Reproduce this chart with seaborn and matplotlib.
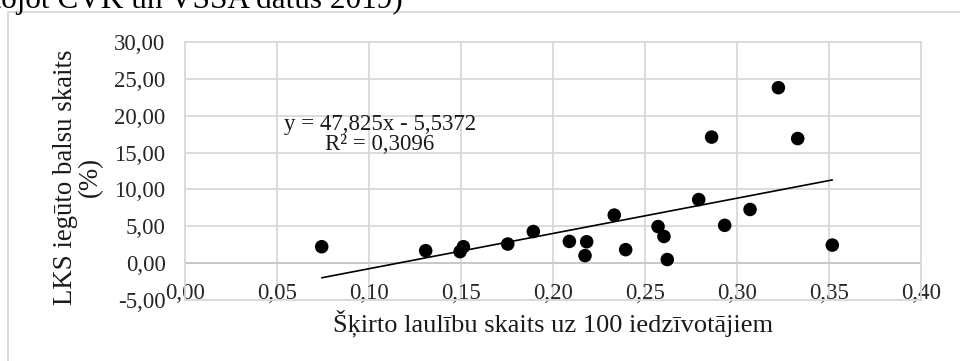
import numpy as np
import pandas as pd
import matplotlib
matplotlib.use("Agg")
import matplotlib.pyplot as plt
from matplotlib.ticker import FuncFormatter
from matplotlib.patches import Rectangle
import seaborn as sns

# divorces per 100 inhabitants vs LKS vote share (%)
divorces = [0.0743, 0.1308, 0.1495, 0.1513, 0.1754, 0.1893, 0.2089, 0.2183,
            0.2174, 0.2333, 0.2395, 0.2571, 0.2603, 0.2621, 0.2792, 0.2862,
            0.2933, 0.3071, 0.3225, 0.3330, 0.3518]
lks_votes = [2.23, 1.69, 1.56, 2.23, 2.59, 4.29, 2.95, 2.90,
             1.02, 6.52, 1.83, 4.96, 3.62, 0.49, 8.62, 17.10,
             5.13, 7.28, 23.80, 16.90, 2.45]

# Excel trendline as printed on the chart
slope = 47.825
intercept = -5.5372
r2 = 0.3096

x_ticks = [0.00, 0.05, 0.10, 0.15, 0.20, 0.25, 0.30, 0.35, 0.40]
y_ticks = [-5, 0, 5, 10, 15, 20, 25, 30]

df = pd.DataFrame({'x': divorces, 'y': lks_votes})
trend_x = np.array([min(divorces), max(divorces)])
trend = pd.DataFrame({'x': trend_x, 'y': slope * trend_x + intercept})

sns.set_style('white')
plt.rcParams['font.family'] = ['Liberation Serif', 'DejaVu Serif']

fig = plt.figure(figsize=(9.6, 3.61), dpi=100)
ax = fig.add_axes([185 / 960, 1 - 300 / 361, 736 / 960, 258 / 361])

grey = '#d9d9d9'
ax.grid(True, color=grey, linewidth=1.3)
ax.set_axisbelow(True)
for s in ax.spines.values():
    s.set_color(grey)
    s.set_linewidth(1.3)
ax.axhline(0, color='#c8c8c8', linewidth=1.3, zorder=1)

sns.lineplot(data=trend, x='x', y='y', color='black', linewidth=1.2, ax=ax, zorder=2)
sns.scatterplot(data=df, x='x', y='y', color='black', s=95, edgecolor='none', ax=ax, zorder=3)

ax.set_xlim(0, 0.4)
ax.set_ylim(-5, 30)
ax.set_xticks(x_ticks)
ax.set_yticks(y_ticks)
comma = FuncFormatter(lambda v, p: f"{v:.2f}".replace('.', ','))
ax.xaxis.set_major_formatter(comma)
ax.yaxis.set_major_formatter(comma)
ax.tick_params(axis='both', length=0, labelsize=16.5, colors='#262626')
ax.tick_params(axis='x', pad=-12.4)
ax.tick_params(axis='y', pad=14)

ax.set_xlabel('Šķirto laulību skaits uz 100 iedzīvotājiem', fontsize=19, color='#1a1a1a')
ax.set_ylabel('LKS iegūto balsu skaits\n(%)', fontsize=19.4, color='#1a1a1a', linespacing=0.98)
ax.xaxis.set_label_coords(0.5, -0.035)
ax.yaxis.set_label_coords(-0.112, 0.477)

ax.text(0.106, 18.0, f"y = {slope:.3f}x - {abs(intercept):.4f}".replace('.', ','),
        ha='center', va='baseline', fontsize=16.5, color='#1a1a1a')
ax.text(0.106, 15.3, f"R² = {r2:.4f}".replace('.', ','),
        ha='center', va='baseline', fontsize=16.5, color='#1a1a1a')

# chart area frame (continues past the crop) and the cut caption line above
fig.patches.append(Rectangle((8 / 960, -0.1), 1.2, 1 - 12 / 361 + 0.1,
                             transform=fig.transFigure, fill=False,
                             edgecolor=grey, linewidth=1.3))
fig.text(403 / 960, 1 - 8 / 361, 'izmantojot CVK un VSSA datus 2019)',
         ha='right', va='baseline', fontsize=22.5, color='black')

fig.savefig('out.png', dpi=100)
